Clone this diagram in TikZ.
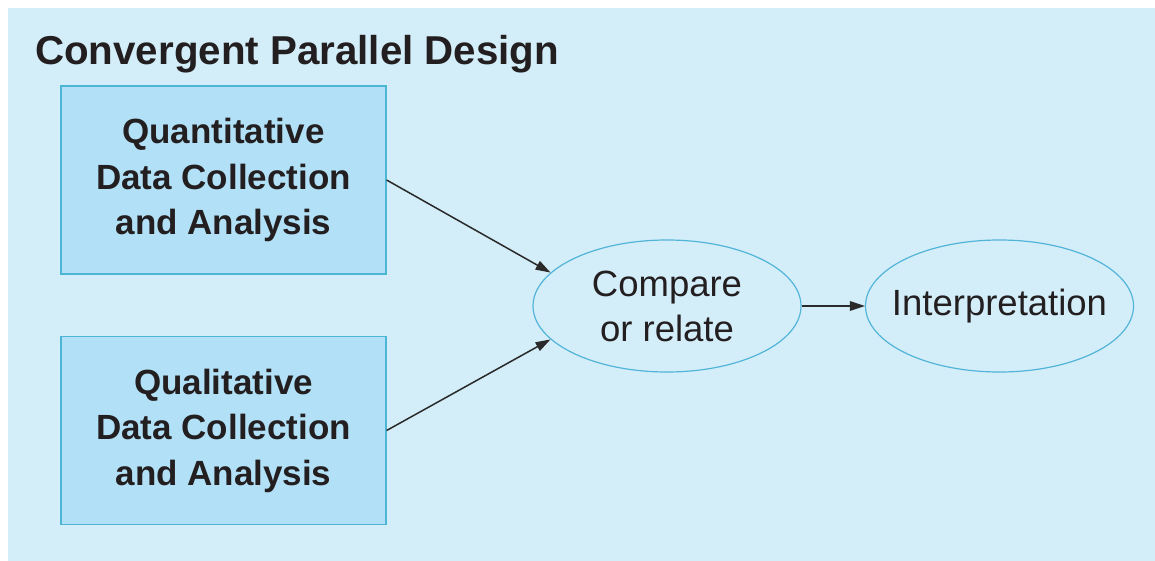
\documentclass[tikz,border=0pt]{standalone}
\usepackage{fontspec}
\setmainfont{Liberation Sans}
\usetikzlibrary{shapes.geometric,arrows.meta}
\definecolor{panelbg}{HTML}{D3EEF9}
\definecolor{boxfill}{HTML}{B2E1F7}
\definecolor{boxline}{HTML}{4DB6D6}
\definecolor{ellline}{HTML}{52B4D8}
\definecolor{ink}{HTML}{231F20}
\definecolor{arrowc}{HTML}{2A2A2A}
\tikzset{
  databox/.style={draw=boxline, fill=boxfill, line width=1.2pt, rectangle,
    minimum width=325pt, minimum height=188pt, inner sep=0pt, align=center,
    text=ink, font=\fontsize{35}{45.5}\selectfont\bfseries},
  oval/.style={draw=ellline, line width=1.2pt, ellipse,
    minimum width=268pt, minimum height=132pt, inner sep=0pt, align=center,
    text=ink, font=\fontsize{36.5}{45}\selectfont},
  conn/.style={draw=arrowc, line width=1.5pt, -{Triangle[length=15pt,width=9.5pt]}}
}
\begin{document}
\begin{tikzpicture}[x=1pt,y=-1pt]
\useasboundingbox (0,0) rectangle (1155,561);
\fill[white] (0,0) rectangle (1155,561);
\fill[panelbg] (8,8) rectangle (1155,561);
\node[anchor=base west, inner sep=0pt, text=ink, font=\fontsize{40.3}{44}\selectfont\bfseries] (title) at (35,65) {Convergent Parallel Design};
\node[databox] (quant) at (223.5,180) {Quantitative\\Data Collection\\and Analysis};
\node[databox] (qual) at (223.5,430.5) {Qualitative\\Data Collection\\and Analysis};
\node[oval] (cmp) at (667,306) {\makebox[150pt]{Compare}\\\makebox[150pt]{or relate}};
\node[oval] (interp) at (999.5,306) {\makebox[150pt]{Interpretation}};
\draw[conn] (quant.east) -- (cmp.164);
\draw[conn] (qual.east) -- (cmp.196);
\draw[conn] (cmp.east) -- (interp.west);
\end{tikzpicture}
\end{document}
